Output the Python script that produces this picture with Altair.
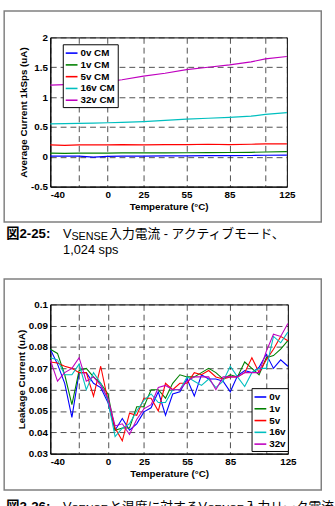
import altair as alt
import pandas as pd

# ---------------- data: top chart (average current, 1kSps) ----------------
temps_top = [-40, -30, -20, -10, 0, 10, 25, 40, 55, 70, 85, 100, 110, 125]
series_top = ["0v CM", "1v CM", "5v CM", "16v CM", "32v CM"]
cm_0v = [0.010, 0.012, 0.012, -0.006, 0.008, 0.010, 0.012, 0.015, 0.015, 0.018, 0.020, 0.022, 0.025, 0.028]
cm_1v = [0.060, 0.058, 0.060, 0.060, 0.062, 0.064, 0.065, 0.066, 0.068, 0.070, 0.072, 0.075, 0.080, 0.085]
cm_5v = [0.200, 0.190, 0.200, 0.200, 0.200, 0.205, 0.200, 0.205, 0.205, 0.210, 0.205, 0.210, 0.215, 0.215]
cm_16v = [0.550, 0.555, 0.560, 0.565, 0.570, 0.575, 0.590, 0.610, 0.630, 0.645, 0.660, 0.680, 0.710, 0.740]
cm_32v = [1.200, 1.210, 1.220, 1.240, 1.260, 1.290, 1.350, 1.400, 1.460, 1.500, 1.540, 1.590, 1.640, 1.680]

# ---------------- data: bottom chart (leakage current) ----------------
temps_bot = [-40, -35, -30, -25, -20, -15, -10, -5, 0, 5, 10, 15, 20, 25, 30, 35, 40,
             45, 50, 55, 60, 65, 70, 75, 80, 85, 90, 95, 100, 105, 110, 115, 120, 125]
series_bot = ["0v", "1v", "5v", "16v", "32v"]
lk_0v = [0.079, 0.072, 0.063, 0.047, 0.068, 0.068, 0.063, 0.061, 0.054, 0.041, 0.0465, 0.041, 0.044, 0.0496, 0.0515, 0.059, 0.048,
         0.058, 0.059, 0.065, 0.057, 0.067, 0.065, 0.065, 0.064, 0.059, 0.0665, 0.069, 0.068, 0.0705, 0.0766, 0.070, 0.074, 0.071]
lk_1v = [0.079, 0.077, 0.067, 0.053, 0.069, 0.070, 0.066, 0.063, 0.058, 0.041, 0.042, 0.042, 0.052, 0.052, 0.060, 0.060, 0.056,
         0.063, 0.067, 0.066, 0.066, 0.068, 0.070, 0.068, 0.065, 0.067, 0.066, 0.073, 0.070, 0.067, 0.075, 0.076, 0.079, 0.083]
lk_5v = [0.073, 0.0725, 0.071, 0.070, 0.068, 0.068, 0.057, 0.071, 0.055, 0.042, 0.036, 0.049, 0.048, 0.056, 0.056, 0.050, 0.063,
         0.060, 0.063, 0.063, 0.068, 0.067, 0.069, 0.066, 0.065, 0.066, 0.066, 0.068, 0.075, 0.068, 0.074, 0.079, 0.085, 0.083]
lk_16v = [0.075, 0.074, 0.067, 0.067, 0.072, 0.060, 0.068, 0.063, 0.055, 0.038, 0.042, 0.044, 0.050, 0.055, 0.058, 0.054, 0.054,
          0.060, 0.060, 0.066, 0.064, 0.062, 0.065, 0.061, 0.064, 0.071, 0.066, 0.0615, 0.068, 0.070, 0.070, 0.085, 0.082, 0.087]
lk_32v = [0.074, 0.064, 0.068, 0.070, 0.075, 0.064, 0.066, 0.062, 0.056, 0.043, 0.044, 0.039, 0.046, 0.051, 0.053, 0.061, 0.062,
          0.060, 0.060, 0.064, 0.066, 0.066, 0.066, 0.060, 0.066, 0.066, 0.066, 0.068, 0.068, 0.068, 0.078, 0.086, 0.085, 0.091]

colors = ["#0000ff", "#008000", "#ff0000", "#00bfbf", "#bf00bf"]

x_ticks = [-40, -20, 0, 25, 55, 85, 110, 125]
y_ticks_top = [-0.5, 0, 0.5, 1, 1.5, 2]
y_ticks_bot = [0.03, 0.04, 0.05, 0.06, 0.07, 0.08, 0.09, 0.1]


def long_df(temps, names, arrays):
    rows = []
    for n, vals in zip(names, arrays):
        for t, v in zip(temps, vals):
            rows.append({"T": t, "I": v, "s": n})
    return pd.DataFrame(rows)


df_top = long_df(temps_top, series_top, [cm_0v, cm_1v, cm_5v, cm_16v, cm_32v])
df_bot = long_df(temps_bot, series_bot, [lk_0v, lk_1v, lk_5v, lk_16v, lk_32v])

FONT = "Liberation Sans"
CAP_FONT = "Liberation Sans, Noto Sans CJK JP"
one = pd.DataFrame({"a": [0]})

x_axis = alt.Axis(values=x_ticks, title="Temperature (°C)", titlePadding=2,
                  labelAlign={"condition": {"test": "datum.value == -40", "value": "left"}, "value": "center"},
                  labelExpr="datum.value == -20 || datum.value == 110 ? '' : '' + datum.value")


def legend(x, y):
    return alt.Legend(orient="none", legendX=x, legendY=y, title=None, symbolType="stroke",
                      fillColor="white", strokeColor="black", padding=2, rowPadding=0,
                      labelFont=FONT, labelFontWeight="bold", labelFontSize=10, labelColor="black",
                      symbolStrokeWidth=1.6, symbolSize=144, labelOffset=2)


def frame(y1, y2):
    return alt.Chart(one).mark_rect(fill=None, stroke="#808080", strokeWidth=1.5).encode(
        x=alt.value(-47), x2=alt.value(276), y=alt.value(y1), y2=alt.value(y2))


def txt(s, x, y, size=13, weight="normal"):
    return alt.Chart(one).mark_text(text=s, align="left", baseline="middle", font=CAP_FONT,
                                    fontSize=size, fontWeight=weight, color="black").encode(
        x=alt.value(x), y=alt.value(y))


top_lines = alt.Chart(df_top).mark_line(strokeWidth=1.2).encode(
    x=alt.X("T:Q", scale=alt.Scale(domain=[-40, 125], nice=False), axis=x_axis),
    y=alt.Y("I:Q", scale=alt.Scale(domain=[-0.5, 2], nice=False),
            axis=alt.Axis(values=y_ticks_top, title="Average Current 1kSps (uA)", titlePadding=2,
                          labelExpr="'' + datum.value")),
    color=alt.Color("s:N", scale=alt.Scale(domain=series_top, range=colors), legend=legend(12.7, 7)),
)

top = alt.layer(
    frame(-27, 188),
    top_lines,
    txt("図2-25:", -45, 200, size=13.5, weight="bold"),
    txt("V", 13, 200),
    txt("SENSE", 21.5, 203, size=11),
    txt("入力電流 - アクティブモード、", 60, 200),
    txt("1,024 sps", 13, 217),
).properties(width=241, height=152)

bot_lines = alt.Chart(df_bot).mark_line(strokeWidth=1.1).encode(
    x=alt.X("T:Q", scale=alt.Scale(domain=[-40, 125], nice=False), axis=x_axis),
    y=alt.Y("I:Q", scale=alt.Scale(domain=[0.03, 0.1], nice=False),
            axis=alt.Axis(values=y_ticks_bot, title="Leakage Current (uA)", titlePadding=2,
                          labelExpr="'' + datum.value")),
    color=alt.Color("s:N", scale=alt.Scale(domain=series_bot, range=colors), legend=legend(205, 85.3)),
)

bottom = alt.layer(
    frame(-26, 189),
    bot_lines,
    txt("図2-26:", -45, 206, size=13.5, weight="bold"),
    txt("V", 13, 206),
    txt("SENSE", 21.5, 209, size=11),
    txt("と温度に対するV", 60, 206),
    txt("SENSE", 160, 209, size=11),
    txt("入力リーク電流", 198, 206),
).properties(width=242, height=152)

chart = alt.vconcat(top, bottom, spacing=120, bounds="flush").resolve_scale(color="independent").properties(
    padding={"left": 2.25, "top": 4.25, "right": 0, "bottom": 0},
    background="white",
).configure_view(stroke="black", strokeWidth=1).configure_axis(
    labelFont=FONT, labelFontWeight="bold", labelFontSize=10, labelColor="black",
    titleFont=FONT, titleFontWeight="bold", titleFontSize=10, titleColor="black",
    domainColor="black", domainWidth=1, ticks=False, labelPadding=3,
    grid=True, gridColor="#222222", gridOpacity=1, gridDash=[6, 4], gridWidth=0.8,
)

chart.save("out.html", embed_options={"renderer": "svg", "actions": False})
